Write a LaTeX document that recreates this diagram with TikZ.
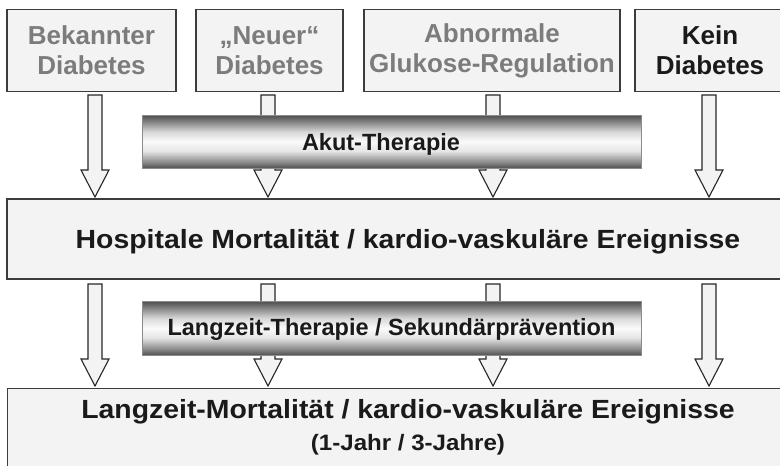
\documentclass[tikz,border=0pt]{standalone}
\usepackage{fontspec}
\setmainfont{Liberation Sans}
\newfontfamily\widesans{Liberation Sans}[FakeStretch=1.08]
\usetikzlibrary{calc}

\definecolor{boxfill}{HTML}{F3F3F3}
\definecolor{boxline}{HTML}{3C3C3C}
\definecolor{greytext}{HTML}{7C7C7C}
\definecolor{darktext}{HTML}{1A1A1A}

% metallic bar: dark edges, bright band slightly below the middle
\pgfdeclareverticalshading{metalbar}{100bp}{%
  color(0bp)=(black!68);
  color(25bp)=(black!68);
  color(30bp)=(black!48);
  color(41bp)=(black!10);
  color(50bp)=(black!2);
  color(59bp)=(black!15);
  color(69bp)=(black!50);
  color(75bp)=(black!70);
  color(100bp)=(black!70)}

\tikzset{
  topbox/.style={draw=boxline, line width=1.1pt, fill=boxfill, inner sep=0pt,
    align=center, font=\bfseries\fontsize{26}{30}\selectfont},
  widebox/.style={draw=boxline, line width=1.1pt, fill=boxfill, inner sep=0pt},
  barbox/.style={shading=metalbar, inner sep=0pt, draw=black!45, line width=0.4pt},
  bartext/.style={font=\bfseries\fontsize{23.5}{27}\selectfont, text=darktext},
  bigtext/.style={font=\widesans\bfseries\fontsize{26.3}{30}\selectfont, text=darktext},
  arrowbody/.style={draw=black!85, line width=1.1pt, fill=boxfill, line join=miter},
}

% block arrow from #1 (top of shaft) to #2 (tip)
\newcommand{\blockarr}[2]{%
  \draw[arrowbody] let \p1=(#1), \p2=(#2) in
    (\x1-7pt,\y1) -- (\x1+7pt,\y1) -- (\x1+7pt,\y2+27pt) -- (\x1+14pt,\y2+27pt)
    -- (\x1,\y2) -- (\x1-14pt,\y2+27pt) -- (\x1-7pt,\y2+27pt) -- cycle;}

\begin{document}
\begin{tikzpicture}[x=1pt,y=-1pt]
\useasboundingbox (0,0) rectangle (780,466);
\begin{scope}
\clip (0,0) rectangle (780,466);

% category boxes
\node[topbox, minimum width=169, minimum height=82, text=greytext] (b1) at (91.5,50.5) {Bekannter\\Diabetes};
\node[topbox, minimum width=147, minimum height=82, text=greytext] (b2) at (269.5,50.5) {„Neuer“\\Diabetes};
\node[topbox, minimum width=256, minimum height=82, text=greytext] (b3) at (492,50.5) {Abnormale\\Glukose-Regulation};
\node[topbox, minimum width=150, minimum height=82, text=darktext] (b4) at (710,50.5) {Kein\\Diabetes};

% outcome boxes
\node[widebox, minimum width=790, minimum height=80] (hosp) at (402,239) {};
\node[bigtext] (hospt) at (408,242) {Hospitale Mortalität / kardio-vaskuläre Ereignisse};
\node[widebox, minimum width=790, minimum height=100, anchor=north west] (lang) at (7,388) {};
\node[bigtext] (langt) at (408,412) {Langzeit-Mortalität / kardio-vaskuläre Ereignisse};
\node[font=\widesans\bfseries\fontsize{22.3}{26}\selectfont, text=darktext] (langy) at (408,445) {(1-Jahr / 3-Jahre)};

% arrow anchor points
\coordinate (a1s) at (95,95);   \coordinate (a1t) at (95,197);
\coordinate (a2s) at (268,95);  \coordinate (a2t) at (268,197);
\coordinate (a3s) at (493,95);  \coordinate (a3t) at (493,197);
\coordinate (a4s) at (709,95);  \coordinate (a4t) at (709,197);
\coordinate (c1s) at (95,284);  \coordinate (c1t) at (95,386);
\coordinate (c2s) at (268,284); \coordinate (c2t) at (268,386);
\coordinate (c3s) at (493,284); \coordinate (c3t) at (493,386);
\coordinate (c4s) at (709,284); \coordinate (c4t) at (709,386);

\blockarr{a1s}{a1t}
\blockarr{a2s}{a2t}
\blockarr{a3s}{a3t}
\blockarr{a4s}{a4t}
\blockarr{c1s}{c1t}
\blockarr{c2s}{c2t}
\blockarr{c3s}{c3t}
\blockarr{c4s}{c4t}

% therapy bars lying across the middle arrows
\node[barbox, minimum width=499, minimum height=53] (akut) at (391.5,141.5) {};
\node[bartext] (akutt) at (381,144) {Akut-Therapie};
\node[barbox, minimum width=499, minimum height=54] (lzt) at (391.5,328) {};
\node[bartext] (lztt) at (391.5,329) {Langzeit-Therapie / Sekundärprävention};
\end{scope}
\end{tikzpicture}
\end{document}
